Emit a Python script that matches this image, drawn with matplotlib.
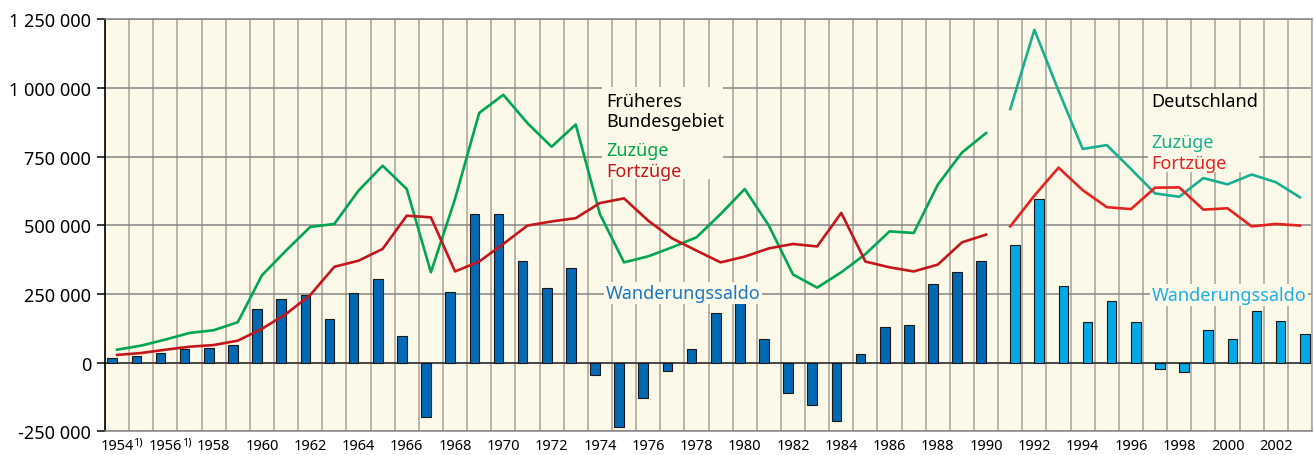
import matplotlib
matplotlib.use("Agg")
import matplotlib.pyplot as plt
from matplotlib.patches import Rectangle
import numpy as np

plt.rcParams['font.family'] = ['Noto Sans', 'DejaVu Sans']

## Daten (Früheres Bundesgebiet 1954-1990, Deutschland 1991-2003)
years_west = list(range(1954, 1991))
zuzuege_west = [47, 62, 84, 108, 118, 147, 318, 408, 494, 505, 626, 717, 632, 329, 596,
                909, 975, 872, 786, 867, 541, 365, 387, 420, 456, 541, 632, 499, 321, 273,
                329, 395, 478, 472, 648, 765, 836]
fortzuege_west = [28, 35, 47, 58, 64, 80, 123, 177, 246, 349, 371, 414, 535, 529, 332,
                  368, 432, 499, 514, 526, 581, 598, 517, 452, 408, 365, 386, 416, 432, 423,
                  545, 368, 347, 332, 357, 438, 466]
saldo_west = [17, 24, 34, 50, 55, 64, 194, 230, 247, 158, 254, 303, 97, -199, 256,
              540, 540, 369, 272, 343, -44, -235, -130, -29, 50, 180, 246, 85, -112, -153,
              -213, 30, 130, 138, 287, 329, 369]

years_de = list(range(1991, 2004))
zuzuege_de = [923, 1212, 990, 778, 792, 705, 616, 604, 672, 649, 685, 657, 602]
fortzuege_de = [496, 608, 710, 628, 566, 559, 637, 638, 557, 562, 496, 505, 499]
saldo_de = [427, 596, 279, 148, 224, 149, -22, -35, 118, 86, 188, 153, 103]

y_ticks = [-250000, 0, 250000, 500000, 750000, 1000000, 1250000]
y_labels = ["-250 000", "0", "250 000", "500 000", "750 000", "1 000 000", "1 250 000"]
x_ticks = list(range(1954, 2003, 2))
x_labels = [str(y) for y in x_ticks]

bg = '#FDF9E8'

fig = plt.figure(figsize=(13.14, 4.56), dpi=100)
ax = fig.add_axes([105/1314, 1 - 432.3/456, 1207/1314, 412/456])
ax.set_facecolor(bg)

k = 1000
## Balken
ax.bar([y - 0.2 for y in years_west], [v * k for v in saldo_west], width=0.4,
       color='#0069B4', edgecolor='#1a1a1a', linewidth=0.8, zorder=2)
ax.bar([y + 0.2 for y in years_de], [v * k for v in saldo_de], width=0.4,
       color='#00A8E6', edgecolor='#1a1a1a', linewidth=0.8, zorder=2)

## Linien
ax.plot(years_west, [v * k for v in zuzuege_west], color='#00A650', lw=1.9, zorder=3)
ax.plot(years_west, [v * k for v in fortzuege_west], color='#C4161C', lw=1.9, zorder=3)
ax.plot(years_de, [v * k for v in zuzuege_de], color='#19B092', lw=1.9, zorder=3)
ax.plot(years_de, [v * k for v in fortzuege_de], color='#E5231F', lw=1.9, zorder=3)

ax.axhline(0, color='#333333', lw=1.1, zorder=1.8)

## Achsen
ax.set_xlim(1953.5, 2003.5)
ax.set_ylim(-250000, 1250000)
ax.set_yticks(y_ticks)
ax.set_yticklabels(y_labels, fontsize=13)
ax.set_xticks(x_ticks)
ax.set_xticklabels(x_labels, fontsize=10.5)
ax.set_xticks(np.arange(1953.5, 2004, 1), minor=True)
ax.tick_params(axis='y', length=6, width=1.1, color='black', pad=4)
ax.tick_params(axis='x', which='both', length=0, pad=5)

ax.grid(which='minor', axis='x', color='#ADA9A1', lw=1.2, zorder=0)
ax.grid(which='major', axis='y', color='#858585', lw=1.1, zorder=0)
ax.grid(which='major', axis='x', visible=False)
ax.set_axisbelow(True)

for s in ['top', 'bottom']:
    ax.spines[s].set_color('#858585')
    ax.spines[s].set_linewidth(1.1)
ax.spines['right'].set_color('#ADA9A1')
ax.spines['right'].set_linewidth(1.2)
ax.spines['left'].set_color('black')
ax.spines['left'].set_linewidth(1.2)

## Fußnoten an den Jahren
for yr in [1954, 1956]:
    ax.text(yr + 0.68, -0.012, "1)", fontsize=8, transform=ax.get_xaxis_transform(),
            ha='left', va='top')

## Beschriftungen
ax.add_patch(Rectangle((1974.1, 668000), 5.0, 335000, facecolor=bg, edgecolor='none', zorder=1))
ax.add_patch(Rectangle((1996.7, 694000), 4.6, 302000, facecolor=bg, edgecolor='none', zorder=1))

fs = 13
ax.text(1974.25, 934000, "Früheres", fontsize=fs, va='baseline', zorder=5)
ax.text(1974.25, 862000, "Bundesgebiet", fontsize=fs, va='baseline', zorder=5)
ax.text(1974.25, 756000, "Zuzüge", fontsize=fs, color='#00A650', va='baseline', zorder=5)
ax.text(1974.25, 680000, "Fortzüge", fontsize=fs, color='#C4161C', va='baseline', zorder=5)
ax.text(1974.25, 236000, "Wanderungssaldo", fontsize=fs, color='#1B78C2', va='baseline', zorder=5,
        bbox=dict(boxstyle='square,pad=0.1', facecolor=bg, edgecolor='none'))

ax.text(1996.85, 934000, "Deutschland", fontsize=fs, va='baseline', zorder=5)
ax.text(1996.85, 785000, "Zuzüge", fontsize=fs, color='#19B092', va='baseline', zorder=5)
ax.text(1996.85, 709000, "Fortzüge", fontsize=fs, color='#E5231F', va='baseline', zorder=5)
ax.text(1996.85, 228000, "Wanderungssaldo", fontsize=fs, color='#1CAEE6', va='baseline', zorder=5,
        bbox=dict(boxstyle='square,pad=0.1', facecolor=bg, edgecolor='none'))

plt.savefig("out.png", dpi=100)
